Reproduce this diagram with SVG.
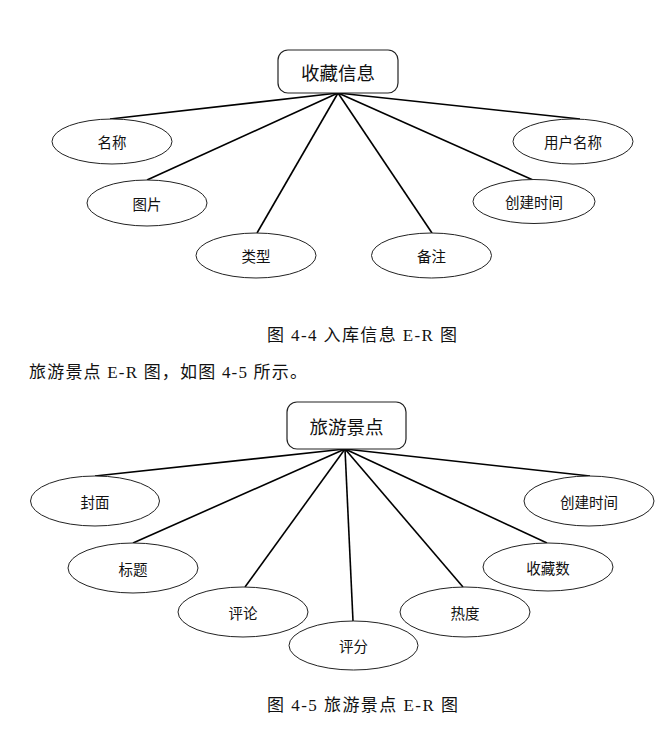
<svg xmlns="http://www.w3.org/2000/svg" width="672" height="730" viewBox="0 0 672 730">
<style>
.ent{fill:#fff;stroke:#222;stroke-width:1.2}
.att{fill:#fff;stroke:#222;stroke-width:1}
.et{font-family:"Noto Sans CJK SC","Noto Sans",sans-serif;font-size:18.5px;fill:#111;text-anchor:middle;dominant-baseline:central}
.at{font-family:"Noto Sans CJK SC","Noto Sans",sans-serif;font-size:14.5px;fill:#111;text-anchor:middle;dominant-baseline:central}
.cap{font-family:"Liberation Serif","Noto Sans CJK SC",serif;font-size:17px;fill:#111}
.ln{stroke:#000;stroke-width:1.6;fill:none}
</style>
<rect width="672" height="730" fill="#fff"/>
<g id="connectors">
<line class="ln" x1="338" y1="93" x2="110" y2="119"/>
<line class="ln" x1="338" y1="93" x2="147" y2="180"/>
<line class="ln" x1="338" y1="93" x2="257" y2="233"/>
<line class="ln" x1="338" y1="93" x2="432" y2="233"/>
<line class="ln" x1="338" y1="93" x2="533" y2="180"/>
<line class="ln" x1="338" y1="93" x2="580" y2="119"/>
<line class="ln" x1="345" y1="449" x2="95" y2="476"/>
<line class="ln" x1="345" y1="449" x2="133" y2="543"/>
<line class="ln" x1="345" y1="449" x2="245" y2="587"/>
<line class="ln" x1="345" y1="449" x2="353" y2="621"/>
<line class="ln" x1="345" y1="449" x2="463" y2="587"/>
<line class="ln" x1="345" y1="449" x2="547" y2="543"/>
<line class="ln" x1="345" y1="449" x2="590" y2="476"/>
</g>
<g id="e1"><rect class="ent" x="278" y="50" width="120" height="43" rx="10"/><text class="et" x="338" y="72">收藏信息</text></g>
<g id="a1"><ellipse class="att" cx="112" cy="141.5" rx="60" ry="22.5"/><text class="at" x="112" y="141.5">名称</text></g>
<g id="a2"><ellipse class="att" cx="147" cy="203" rx="60" ry="23"/><text class="at" x="147" y="203">图片</text></g>
<g id="a3"><ellipse class="att" cx="256" cy="255.5" rx="60" ry="22.5"/><text class="at" x="256" y="255.5">类型</text></g>
<g id="a4"><ellipse class="att" cx="431.5" cy="255.5" rx="60" ry="22.5"/><text class="at" x="431.5" y="255.5">备注</text></g>
<g id="a5"><ellipse class="att" cx="534" cy="201.5" rx="61" ry="22"/><text class="at" x="534" y="201.5">创建时间</text></g>
<g id="a6"><ellipse class="att" cx="573" cy="141.5" rx="60" ry="22.5"/><text class="at" x="573" y="141.5">用户名称</text></g>
<text class="cap" x="267" y="341" textLength="190" lengthAdjust="spacing">图 4-4 入库信息 E-R 图</text>
<text class="cap" x="29" y="378" textLength="278" lengthAdjust="spacing">旅游景点 E-R 图，如图 4-5 所示。</text>
<g id="e2"><rect class="ent" x="287" y="402" width="119" height="47" rx="10"/><text class="et" x="346.5" y="425.5">旅游景点</text></g>
<g id="b1"><ellipse class="att" cx="95" cy="501" rx="64.5" ry="25"/><text class="at" x="95" y="501">封面</text></g>
<g id="b2"><ellipse class="att" cx="133" cy="568" rx="65" ry="25"/><text class="at" x="133" y="568">标题</text></g>
<g id="b3"><ellipse class="att" cx="243" cy="612" rx="65" ry="25"/><text class="at" x="243" y="612">评论</text></g>
<g id="b4"><ellipse class="att" cx="353.5" cy="645.5" rx="64.5" ry="24.5"/><text class="at" x="353.5" y="645.5">评分</text></g>
<g id="b5"><ellipse class="att" cx="465" cy="612" rx="65" ry="25"/><text class="at" x="465" y="612">热度</text></g>
<g id="b6"><ellipse class="att" cx="548" cy="567" rx="65" ry="24"/><text class="at" x="548" y="567">收藏数</text></g>
<g id="b7"><ellipse class="att" cx="589" cy="501" rx="65" ry="25"/><text class="at" x="589" y="501">创建时间</text></g>
<text class="cap" x="267" y="711" textLength="191" lengthAdjust="spacing">图 4-5 旅游景点 E-R 图</text>
</svg>
